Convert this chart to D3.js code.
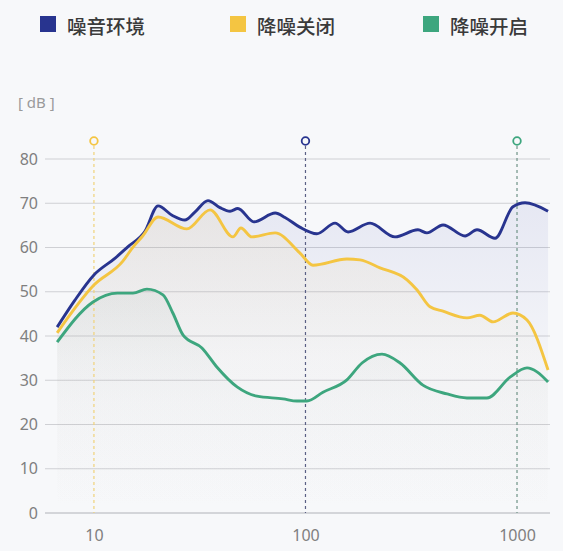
<!DOCTYPE html>
<html>
<head>
<meta charset="utf-8">
<script src="https://cdn.jsdelivr.net/npm/d3@7"></script>
<style>
  html, body { margin: 0; padding: 0; background: #f7f8fa; }
  svg { display: block; font-family: "Noto Sans CJK SC", "Noto Sans", sans-serif; }
</style>
</head>
<body>
<div class="chart"></div>
<script>
const WIDTH = 563;
const HEIGHT = 551;

// series names and colours
const seriesNames = ["噪音环境", "降噪关闭", "降噪开启"];
const seriesColors = ["#28348f", "#f4c542", "#3da67e"];
const fillColors = ["#5b63b8", "#e8c56a", "#9aa9a3"];

// [frequency, dB]
const ambient = [[6.7, 42], [8.1, 48], [10, 53.8], [12.6, 57.6], [14.5, 60.2], [17.4, 63.6], [20.1, 69.4],
  [23.4, 67.3], [26.9, 66.2], [30, 68], [34.6, 70.6], [39.4, 69], [44, 68.2], [47.9, 68.8], [57, 65.8],
  [72, 67.8], [80, 66.8], [94, 64.6], [113, 63.1], [138, 65.5], [159, 63.5], [202, 65.5], [265, 62.4],
  [340, 64], [375, 63.3], [447, 65.1], [568, 62.6], [647, 64], [787, 62.1], [957, 69.2], [1091, 70.1], [1402, 68.2]];

const ancOff = [[6.7, 40.7], [10, 51.5], [13.7, 56.9], [15.3, 60.1], [17, 62.6], [20.1, 66.9], [27.5, 64.2],
  [35.4, 68.5], [45.4, 62.4], [49.5, 64.4], [55.8, 62.4], [71.8, 63.3], [94, 58.8], [108.5, 56], [157, 57.4],
  [181, 57.2], [225, 55.4], [302, 52.7], [337, 50.4], [388, 46.6], [447, 45.6], [580, 44.1], [668, 44.7],
  [770, 43.2], [957, 45.2], [1115, 43.6], [1402, 32.3]];

const ancOn = [[6.7, 38.6], [9.9, 47.7], [12.9, 49.7], [15.3, 49.7], [17.8, 50.6], [21.2, 49.3], [23.6, 45.2],
  [26.4, 40.2], [32.4, 37.3], [38.1, 33], [47.5, 28.5], [59, 26.4], [78.3, 25.8], [91.1, 25.3], [101.6, 25.3],
  [121, 27.3], [157, 30.1], [185, 33.9], [230, 35.9], [280, 33.9], [359, 28.9], [467, 26.9], [580, 26],
  [721, 26], [927, 30.7], [1115, 32.8], [1243, 31.9], [1402, 29.6]];

const seriesData = [ambient, ancOff, ancOn];

// top markers: frequency and which series colour they use
const markerFreqs = [10, 100, 1000];
const markerColors = ["#f4c542", "#28348f", "#3da67e"];
const markerLineColors = ["#f0d27a", "#5b6085", "#6f9487"];

const yTicks = [0, 10, 20, 30, 40, 50, 60, 70, 80];
const xTicks = [10, 100, 1000];

const svg = d3.select(".chart").append("svg")
  .attr("width", WIDTH)
  .attr("height", HEIGHT);

const xScale = d3.scaleLog().domain([5.87, 1432]).range([45, 550]);
const yScale = d3.scaleLinear().domain([0, 80]).range([513, 159]);

// gradients for the areas, fading below each line
const defs = svg.append("defs");
fillColors.forEach(function (c, i) {
  const g = defs.append("linearGradient")
    .attr("id", "grad" + i)
    .attr("x1", 0).attr("x2", 0)
    .attr("y1", 0).attr("y2", 1);
  g.append("stop").attr("offset", "0%").attr("stop-color", c).attr("stop-opacity", 0.11);
  g.append("stop").attr("offset", "50%").attr("stop-color", c).attr("stop-opacity", 0.025);
  g.append("stop").attr("offset", "100%").attr("stop-color", c).attr("stop-opacity", 0);
});

// grid
svg.append("g").selectAll("line")
  .data(yTicks)
  .enter().append("line")
  .attr("x1", 45).attr("x2", 550)
  .attr("y1", function (d) { return yScale(d); })
  .attr("y2", function (d) { return yScale(d); })
  .attr("stroke", function (d) { return d === 0 ? "#b0b2b8" : "#cfd0d4"; })
  .attr("stroke-width", 1);

// axis labels
const yAxis = d3.axisLeft(yScale).tickValues(yTicks).tickSize(0).tickPadding(0);
svg.append("g")
  .attr("transform", "translate(38,0)")
  .call(yAxis)
  .call(function (g) { g.select(".domain").remove(); })
  .selectAll("text")
  .attr("fill", "#7f7f7f")
  .attr("font-size", 16)
  .attr("font-family", "'Noto Sans', sans-serif");

const xAxis = d3.axisBottom(xScale).tickValues(xTicks).tickFormat(d3.format("d")).tickSize(0).tickPadding(0);
svg.append("g")
  .attr("transform", "translate(0,530)")
  .call(xAxis)
  .call(function (g) { g.select(".domain").remove(); })
  .selectAll("text")
  .attr("fill", "#7f7f7f")
  .attr("font-size", 16)
  .attr("font-family", "'Noto Sans', sans-serif");

svg.append("text")
  .attr("x", 18).attr("y", 108)
  .attr("fill", "#9a9a9a")
  .attr("font-size", 15)
  .attr("font-family", "'Noto Sans', sans-serif")
  .text("[ dB ]");

// areas and lines
const area = d3.area()
  .x(function (d) { return xScale(d[0]); })
  .y0(yScale(0))
  .y1(function (d) { return yScale(d[1]); })
  .curve(d3.curveMonotoneX);

const line = d3.line()
  .x(function (d) { return xScale(d[0]); })
  .y(function (d) { return yScale(d[1]); })
  .curve(d3.curveMonotoneX);

seriesData.forEach(function (s, i) {
  svg.append("path")
    .attr("d", area(s))
    .attr("fill", "url(#grad" + i + ")");
});

// marker lines
markerFreqs.forEach(function (f, i) {
  svg.append("line")
    .attr("x1", xScale(f)).attr("x2", xScale(f))
    .attr("y1", 146).attr("y2", yScale(0))
    .attr("stroke", markerLineColors[i])
    .attr("stroke-width", 1.2)
    .attr("stroke-dasharray", "3,3");
  svg.append("circle")
    .attr("cx", xScale(f)).attr("cy", 141)
    .attr("r", 3.8)
    .attr("fill", "#f7f8fa")
    .attr("stroke", markerColors[i])
    .attr("stroke-width", 1.8);
});

seriesData.forEach(function (s, i) {
  svg.append("path")
    .attr("d", line(s))
    .attr("fill", "none")
    .attr("stroke", seriesColors[i])
    .attr("stroke-width", 2.9)
    .attr("stroke-linejoin", "round");
});

// legend
const legendX = [40, 230, 423];
const legend = svg.append("g").selectAll("g")
  .data(seriesNames)
  .enter().append("g")
  .attr("transform", function (d, i) { return "translate(" + legendX[i] + ",0)"; });

legend.append("rect")
  .attr("x", 0).attr("y", 16)
  .attr("width", 16).attr("height", 16)
  .attr("fill", function (d, i) { return seriesColors[i]; });

legend.append("text")
  .attr("x", 27).attr("y", 25)
  .attr("dominant-baseline", "central")
  .attr("font-size", 19.5)
  .attr("font-weight", 500)
  .attr("fill", "#3a3a3a")
  .text(function (d) { return d; });
</script>
</body>
</html>
